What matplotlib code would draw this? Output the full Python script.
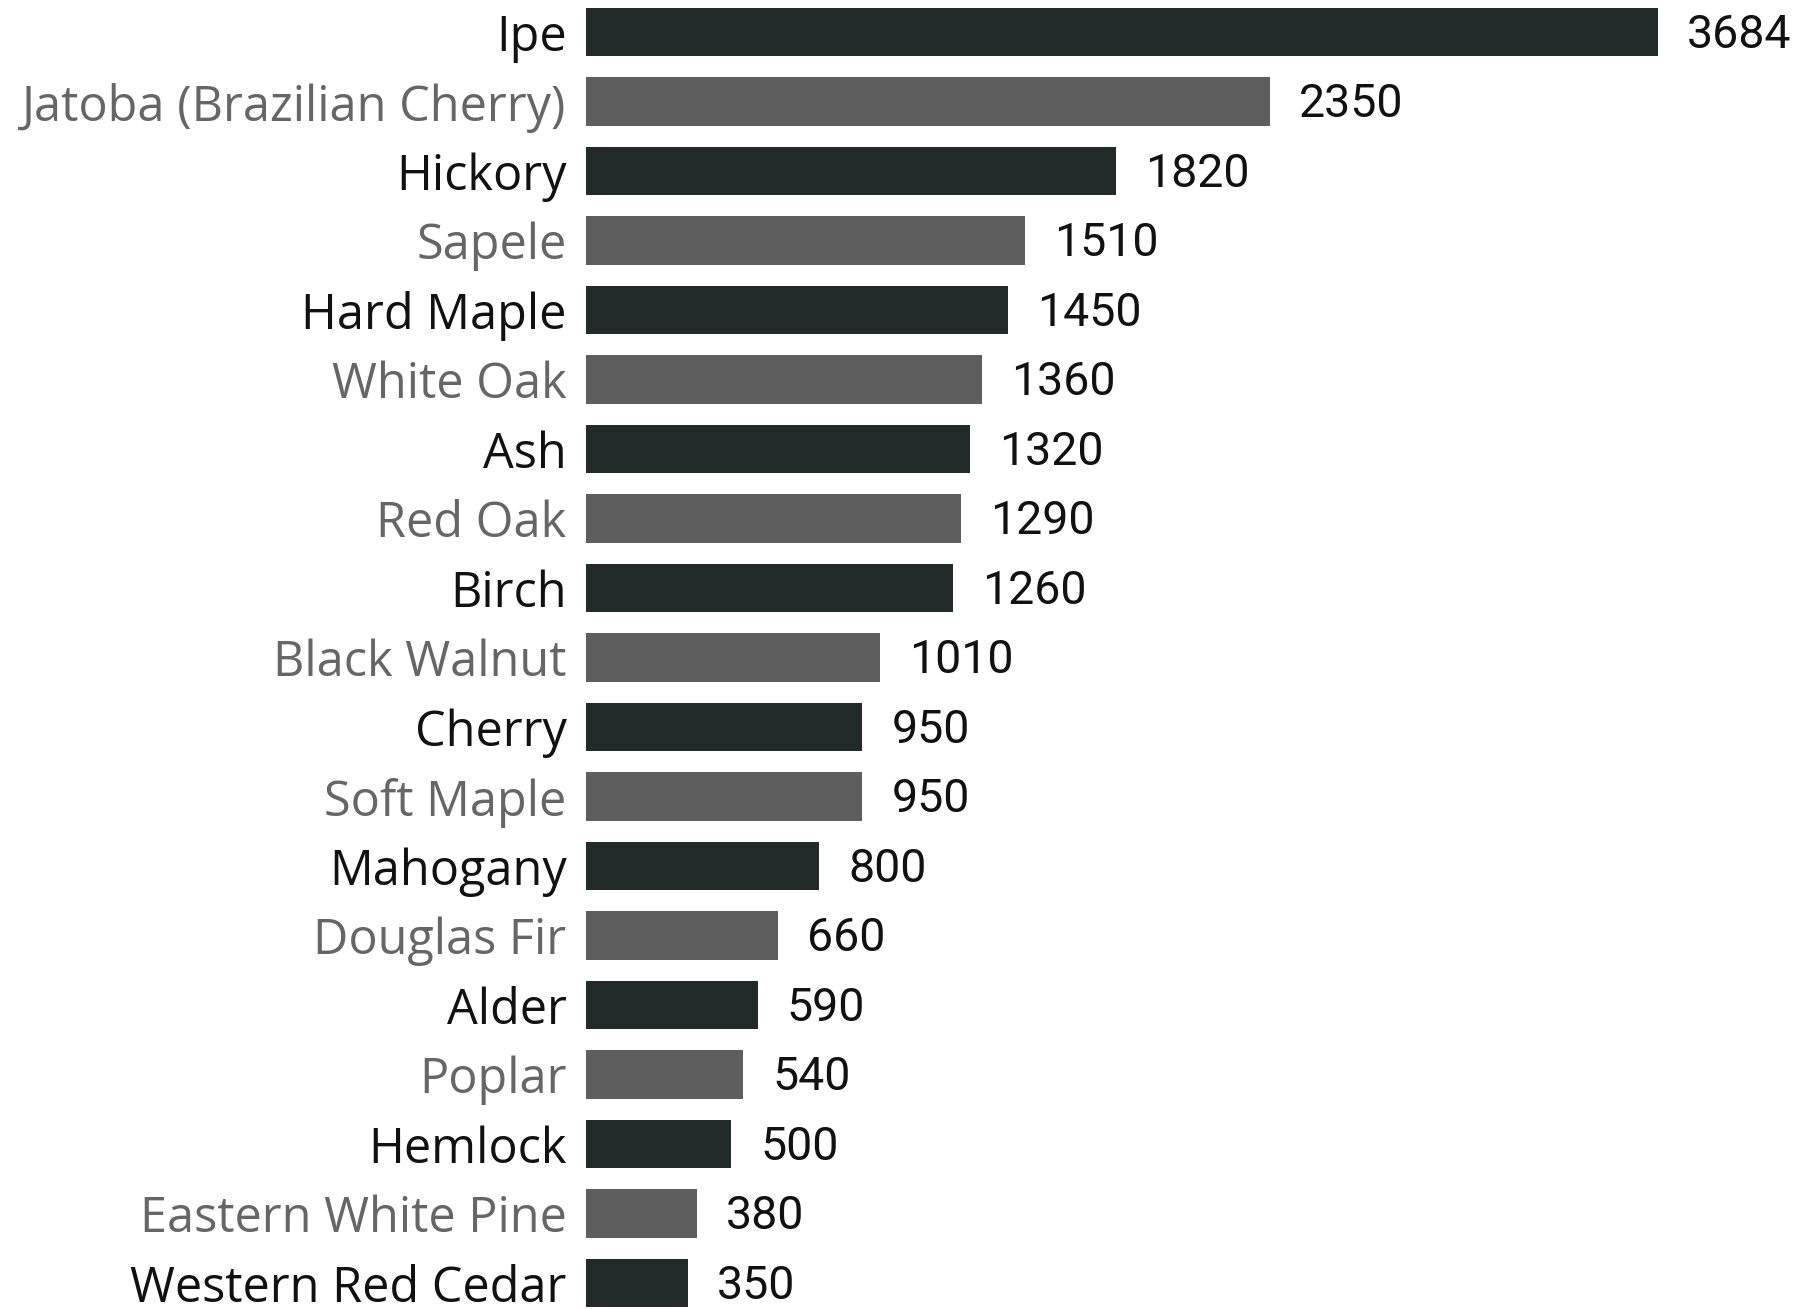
import matplotlib.pyplot as plt
from matplotlib import font_manager

# Janka hardness (lbf) per wood species, top to bottom
species = [
    "Ipe", "Jatoba (Brazilian Cherry)", "Hickory", "Sapele", "Hard Maple",
    "White Oak", "Ash", "Red Oak", "Birch", "Black Walnut", "Cherry",
    "Soft Maple", "Mahogany", "Douglas Fir", "Alder", "Poplar", "Hemlock",
    "Eastern White Pine", "Western Red Cedar",
]
hardness = [3684, 2350, 1820, 1510, 1450, 1360, 1320, 1290, 1260, 1010,
            950, 950, 800, 660, 590, 540, 500, 380, 350]

dark, gray = "#222a2a", "#5e5e5e"
bar_colors = [dark if i % 2 == 0 else gray for i in range(len(species))]
label_colors = ["#111111" if i % 2 == 0 else "#666666" for i in range(len(species))]

names = {f.name for f in font_manager.fontManager.ttflist}
if "Liberation Sans Narrow" in names:
    num_font, num_size = "Liberation Sans Narrow", 37
else:
    num_font, num_size = "Roboto", 33.5

fig = plt.figure(figsize=(18.08, 13.09), dpi=100)
ax = fig.add_axes([586 / 1808, 0, 1 - 586 / 1808, 1])

y = list(range(len(species)))
ax.barh(y, hardness, height=0.7, color=bar_colors)
ax.set_xlim(0, 4200)
ax.set_ylim(18 + 26 / 69.5, -32 / 69.5)

ax.set_yticks(y)
ax.set_yticklabels(species, fontfamily="Open Sans", fontsize=35)
for lab, c in zip(ax.get_yticklabels(), label_colors):
    lab.set_color(c)
ax.tick_params(axis="y", length=0, pad=14)
ax.set_xticks([])
for s in ax.spines.values():
    s.set_visible(False)

for yi, v in zip(y, hardness):
    ax.annotate(str(v), (v, yi), xytext=(21, -2), textcoords="offset points",
                va="center", ha="left", fontsize=num_size, fontfamily=num_font,
                color="#111111")

fig.savefig("out.png", dpi=100)
